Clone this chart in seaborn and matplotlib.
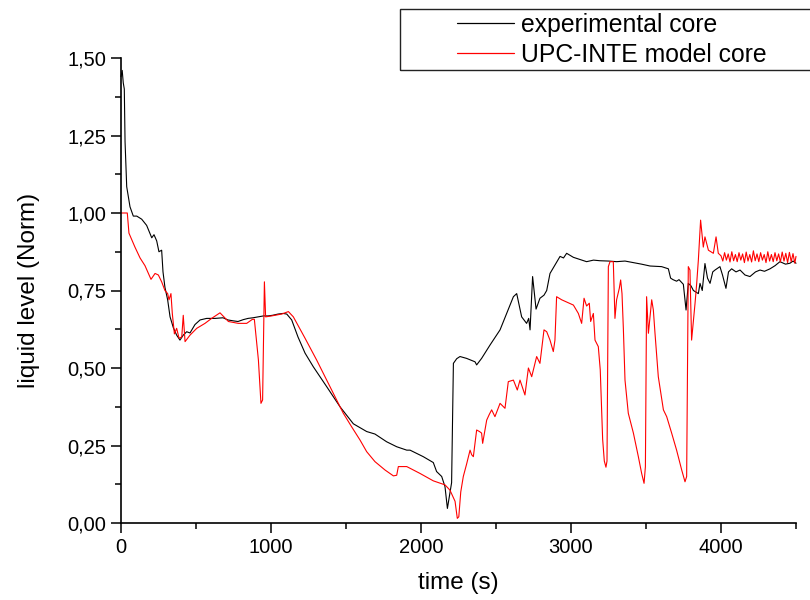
import numpy as np
import pandas as pd
import matplotlib
matplotlib.use("Agg")
import matplotlib.pyplot as plt
import matplotlib.patches as patches
from matplotlib.ticker import MultipleLocator, FuncFormatter
import seaborn as sns

# experimental core level
t_exp = [0, 8, 15, 22, 27, 38, 60, 82, 105, 138,
         171, 205, 220, 238, 253, 271, 280, 293, 311, 327,
         349, 371, 393, 415, 438, 460, 493, 527, 571, 627,
         680, 713, 750, 780, 815, 847, 880, 913, 950, 980,
         1010, 1047, 1080, 1105, 1138, 1180, 1227, 1282, 1371, 1460,
         1549, 1638, 1693, 1771, 1838, 1905, 1927, 2015, 2082, 2104,
         2138, 2160, 2176, 2189, 2204, 2216, 2238, 2260, 2304, 2360,
         2371, 2404, 2460, 2527, 2571, 2616, 2638, 2671, 2704, 2718,
         2727, 2744, 2767, 2793, 2820, 2838, 2860, 2893, 2927, 2950,
         2971, 3016, 3060, 3104, 3150, 3193, 3250, 3304, 3360, 3416,
         3470, 3527, 3604, 3649, 3664, 3680, 3704, 3720, 3749, 3767,
         3782, 3800, 3816, 3849, 3860, 3875, 3893, 3910, 3927, 3945,
         3960, 3993, 4010, 4033, 4050, 4071, 4100, 4127, 4160, 4193,
         4230, 4260, 4290, 4327, 4360, 4393, 4430, 4460, 4480, 4500]
lvl_exp = [1.44, 1.46, 1.42, 1.40, 1.23, 1.085, 1.02, 0.99, 0.99, 0.98,
           0.96, 0.92, 0.93, 0.91, 0.875, 0.88, 0.81, 0.76, 0.72, 0.665,
           0.63, 0.606, 0.59, 0.606, 0.617, 0.613, 0.64, 0.655, 0.66, 0.66,
           0.662, 0.655, 0.652, 0.65, 0.656, 0.66, 0.662, 0.665, 0.668, 0.668,
           0.67, 0.674, 0.676, 0.674, 0.655, 0.60, 0.548, 0.504, 0.44, 0.375,
           0.32, 0.295, 0.287, 0.262, 0.246, 0.235, 0.235, 0.214, 0.195, 0.166,
           0.15, 0.117, 0.047, 0.085, 0.13, 0.515, 0.53, 0.537, 0.531, 0.52,
           0.51, 0.531, 0.574, 0.623, 0.676, 0.73, 0.74, 0.665, 0.644, 0.66,
           0.623, 0.795, 0.69, 0.725, 0.735, 0.75, 0.805, 0.832, 0.86, 0.855,
           0.87, 0.857, 0.85, 0.843, 0.848, 0.846, 0.845, 0.843, 0.845, 0.84,
           0.835, 0.829, 0.827, 0.82, 0.79, 0.785, 0.78, 0.785, 0.77, 0.687,
           0.773, 0.765, 0.75, 0.74, 0.773, 0.75, 0.837, 0.79, 0.773, 0.81,
           0.816, 0.827, 0.80, 0.757, 0.81, 0.82, 0.81, 0.816, 0.80, 0.795,
           0.81, 0.816, 0.812, 0.82, 0.83, 0.843, 0.835, 0.838, 0.845, 0.838]

# UPC-INTE model core level
t_mod = [0, 42, 53, 93, 127, 160, 200, 227, 249, 271,
         293, 311, 320, 333, 342, 356, 371, 387, 405, 415,
         427, 460, 505, 560, 604, 660, 716, 782, 838, 876,
         889, 916, 933, 944, 956, 964, 1004, 1071, 1116, 1149,
         1227, 1304, 1371, 1427, 1482, 1538, 1593, 1638, 1693, 1760,
         1816, 1838, 1849, 1905, 1993, 2082, 2160, 2193, 2227, 2242,
         2252, 2265, 2282, 2304, 2327, 2338, 2349, 2371, 2390, 2404,
         2411, 2438, 2455, 2471, 2493, 2527, 2560, 2582, 2616, 2642,
         2660, 2693, 2716, 2738, 2771, 2793, 2820, 2838, 2860, 2882,
         2893, 2904, 2938, 3016, 3049, 3071, 3087, 3104, 3122, 3131,
         3149, 3160, 3182, 3195, 3211, 3222, 3233, 3240, 3249, 3260,
         3282, 3293, 3304, 3322, 3331, 3340, 3349, 3360, 3382, 3416,
         3449, 3471, 3487, 3496, 3504, 3516, 3538, 3549, 3560, 3582,
         3616, 3638, 3671, 3704, 3738, 3760, 3771, 3782, 3793, 3804,
         3827, 3838, 3849, 3864, 3882, 3893, 3916, 3949, 3967, 3982,
         4000, 4012, 4024, 4036, 4048, 4060, 4072, 4084, 4096, 4108,
         4120, 4132, 4144, 4156, 4168, 4180, 4192, 4204, 4216, 4228,
         4240, 4252, 4264, 4276, 4288, 4300, 4312, 4324, 4336, 4348,
         4360, 4372, 4384, 4396, 4408, 4420, 4432, 4444, 4456, 4468,
         4480, 4492, 4500]
lvl_mod = [1.0, 1.0, 0.935, 0.89, 0.855, 0.83, 0.786, 0.805, 0.80, 0.778,
           0.75, 0.74, 0.72, 0.74, 0.676, 0.61, 0.628, 0.596, 0.60, 0.67,
           0.585, 0.606, 0.628, 0.644, 0.66, 0.678, 0.65, 0.644, 0.644, 0.657,
           0.657, 0.526, 0.386, 0.397, 0.778, 0.665, 0.668, 0.674, 0.682, 0.665,
           0.596, 0.526, 0.461, 0.407, 0.354, 0.31, 0.268, 0.23, 0.198, 0.171,
           0.152, 0.154, 0.182, 0.182, 0.16, 0.136, 0.123, 0.106, 0.07, 0.015,
           0.02, 0.10, 0.15, 0.19, 0.235, 0.22, 0.214, 0.30, 0.295, 0.29,
           0.257, 0.332, 0.35, 0.365, 0.343, 0.386, 0.37, 0.456, 0.461, 0.429,
           0.461, 0.413, 0.50, 0.472, 0.537, 0.515, 0.623, 0.617, 0.59, 0.553,
           0.59, 0.73, 0.72, 0.703, 0.676, 0.644, 0.725, 0.70, 0.709, 0.65,
           0.676, 0.59, 0.569, 0.494, 0.27, 0.20, 0.18, 0.20, 0.827, 0.843,
           0.843, 0.66, 0.72, 0.757, 0.784, 0.74, 0.628, 0.461, 0.354, 0.29,
           0.214, 0.16, 0.128, 0.182, 0.73, 0.612, 0.72, 0.687, 0.612, 0.472,
           0.365, 0.343, 0.29, 0.235, 0.171, 0.133, 0.15, 0.827, 0.816, 0.59,
           0.709, 0.773, 0.848, 0.977, 0.89, 0.923, 0.88, 0.87, 0.923, 0.87,
           0.862, 0.845, 0.872, 0.848, 0.868, 0.842, 0.875, 0.846, 0.866, 0.843,
           0.872, 0.848, 0.868, 0.84, 0.874, 0.845, 0.866, 0.842, 0.878, 0.846,
           0.868, 0.843, 0.872, 0.848, 0.866, 0.84, 0.875, 0.845, 0.866, 0.843,
           0.872, 0.846, 0.868, 0.842, 0.874, 0.845, 0.87, 0.84, 0.873, 0.843,
           0.869, 0.838, 0.86]

series_names = ["experimental core", "UPC-INTE model core"]

df = pd.concat([
    pd.DataFrame({"t": t_exp, "level": lvl_exp, "series": series_names[0]}),
    pd.DataFrame({"t": t_mod, "level": lvl_mod, "series": series_names[1]}),
], ignore_index=True)

sns.set_style("ticks")
plt.rcParams["font.family"] = ["Liberation Sans", "DejaVu Sans"]
plt.rcParams["text.color"] = "black"
plt.rcParams["axes.labelcolor"] = "black"

fig = plt.figure(figsize=(8.1, 6), dpi=100)
ax = fig.add_axes([121/810, 77/600, 675/810, 465/600])

sns.lineplot(data=df, x="t", y="level", hue="series", hue_order=series_names,
             palette=["black", "red"], estimator=None, sort=False,
             linewidth=0.8, ax=ax, legend=False)

ax.set_xlim(0, 4500)
ax.set_ylim(0, 1.5)
ax.xaxis.set_major_locator(MultipleLocator(1000))
ax.xaxis.set_minor_locator(MultipleLocator(500))
ax.yaxis.set_major_locator(MultipleLocator(0.25))
ax.yaxis.set_minor_locator(MultipleLocator(0.125))
ax.yaxis.set_major_formatter(FuncFormatter(lambda v, p: f"{v:.2f}".replace(".", ",")))
ax.xaxis.set_major_formatter(FuncFormatter(lambda v, p: f"{v:.0f}"))
ax.tick_params(which="major", direction="out", length=7, width=1.1, labelsize=14.5,
               colors="black", labelcolor="black")
ax.tick_params(which="minor", direction="out", length=4, width=1.1, colors="black")
for s in ["top", "right"]:
    ax.spines[s].set_visible(False)
for s in ["left", "bottom"]:
    ax.spines[s].set_linewidth(1.2)
    ax.spines[s].set_color("black")
for ln in ax.lines:
    ln.set_clip_on(False)

ax.set_xlabel("time (s)", fontsize=17.5, labelpad=11)
ax.set_ylabel("liquid level (Norm)", fontsize=17.5, labelpad=20)

# legend box like the original, open to the right edge
fig.patches.append(patches.Rectangle((400/810, 1 - 70/600), 0.52, 61/600,
                                     transform=fig.transFigure, fill=False,
                                     edgecolor="#222222", linewidth=1.0))
handles = [plt.Line2D([], [], color="black", lw=0.9), plt.Line2D([], [], color="red", lw=0.9)]
fig.legend(handles, series_names, loc="center left",
           bbox_to_anchor=(457/810, 1 - 40/600), bbox_transform=fig.transFigure,
           frameon=False, fontsize=17.8, handlelength=2.3, handletextpad=0.3,
           borderpad=0, borderaxespad=0, labelspacing=0.25)

fig.savefig("out.png", dpi=100)
